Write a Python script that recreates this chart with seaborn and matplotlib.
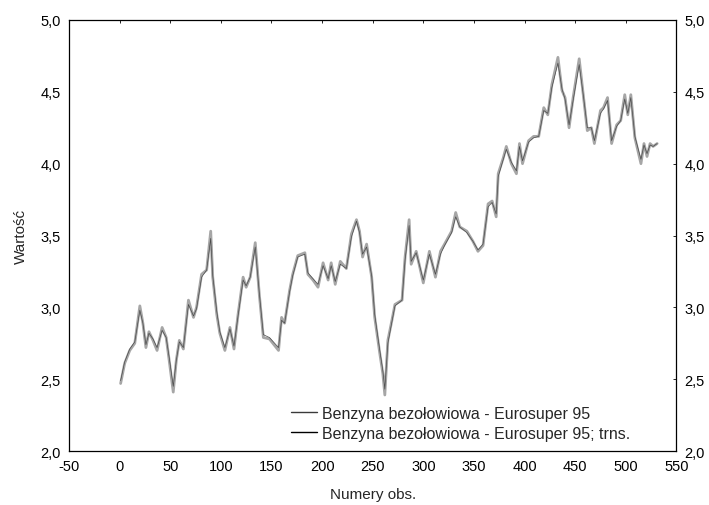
import matplotlib
matplotlib.use("Agg")
import matplotlib.pyplot as plt
import seaborn as sns
import pandas as pd
from matplotlib.ticker import FuncFormatter

obs = [1, 5, 10, 15, 20, 23, 26, 29, 33, 37, 42, 46, 49, 53, 56, 59, 63, 68, 73, 76,
       81, 86, 90, 92, 96, 99, 104, 109, 113, 117, 122, 125, 129, 134, 138, 142, 148, 157, 160, 163,
       168, 171, 176, 183, 186, 191, 196, 201, 206, 209, 213, 218, 224, 229, 234, 237, 240, 244, 249, 252,
       257, 260, 262, 265, 269, 272, 279, 282, 286, 288, 293, 300, 306, 312, 317, 321, 328, 332, 336, 343,
       349, 354, 359, 364, 368, 372, 374, 379, 382, 387, 392, 395, 398, 404, 409, 414, 419, 423, 427, 433,
       437, 440, 444, 448, 454, 458, 462, 466, 469, 475, 478, 482, 486, 491, 495, 499, 502, 505, 509, 515,
       518, 521, 524, 527, 531]

eurosuper = [2.47, 2.61, 2.70, 2.75, 3.01, 2.89, 2.72, 2.83, 2.77, 2.70, 2.86, 2.79, 2.63, 2.41, 2.63, 2.77, 2.71, 3.05, 2.93, 3.00,
             3.23, 3.26, 3.53, 3.21, 2.95, 2.82, 2.70, 2.86, 2.71, 2.95, 3.21, 3.14, 3.21, 3.45, 3.09, 2.79, 2.78, 2.70, 2.93, 2.89,
             3.12, 3.23, 3.36, 3.38, 3.23, 3.19, 3.14, 3.31, 3.19, 3.31, 3.16, 3.32, 3.27, 3.51, 3.61, 3.53, 3.35, 3.44, 3.21, 2.93,
             2.68, 2.54, 2.39, 2.77, 2.91, 3.02, 3.05, 3.35, 3.61, 3.30, 3.39, 3.17, 3.39, 3.21, 3.39, 3.44, 3.53, 3.66, 3.56, 3.53,
             3.46, 3.39, 3.43, 3.72, 3.74, 3.63, 3.93, 4.04, 4.12, 4.00, 3.93, 4.14, 4.00, 4.16, 4.19, 4.19, 4.39, 4.34, 4.55, 4.74,
             4.51, 4.46, 4.25, 4.46, 4.73, 4.48, 4.23, 4.25, 4.14, 4.37, 4.39, 4.46, 4.14, 4.27, 4.30, 4.48, 4.34, 4.48, 4.18, 4.00,
             4.14, 4.05, 4.14, 4.12, 4.14]

eurosuper_trns = [2.49, 2.62, 2.71, 2.76, 2.98, 2.89, 2.74, 2.82, 2.78, 2.72, 2.84, 2.79, 2.65, 2.45, 2.63, 2.76, 2.72, 3.02, 2.94, 2.99,
                  3.21, 3.26, 3.48, 3.22, 2.97, 2.83, 2.72, 2.85, 2.73, 2.94, 3.19, 3.15, 3.21, 3.42, 3.10, 2.81, 2.79, 2.72, 2.91, 2.89,
                  3.11, 3.22, 3.35, 3.37, 3.24, 3.20, 3.16, 3.29, 3.20, 3.29, 3.18, 3.30, 3.27, 3.49, 3.60, 3.52, 3.37, 3.42, 3.22, 2.95,
                  2.70, 2.56, 2.43, 2.75, 2.90, 3.01, 3.05, 3.33, 3.57, 3.32, 3.38, 3.19, 3.37, 3.23, 3.37, 3.43, 3.52, 3.63, 3.56, 3.52,
                  3.46, 3.40, 3.44, 3.70, 3.73, 3.65, 3.91, 4.03, 4.10, 4.01, 3.95, 4.12, 4.02, 4.15, 4.18, 4.19, 4.37, 4.35, 4.53, 4.70,
                  4.52, 4.45, 4.27, 4.44, 4.69, 4.48, 4.25, 4.25, 4.16, 4.35, 4.38, 4.44, 4.16, 4.26, 4.30, 4.45, 4.35, 4.46, 4.19, 4.03,
                  4.13, 4.07, 4.13, 4.12, 4.14]

label1 = "Benzyna bezołowiowa - Eurosuper 95"
label2 = "Benzyna bezołowiowa - Eurosuper 95; trns."

x_ticks = [-50, 0, 50, 100, 150, 200, 250, 300, 350, 400, 450, 500, 550]
y_ticks = [2.0, 2.5, 3.0, 3.5, 4.0, 4.5, 5.0]

sns.set_style("white")
plt.rcParams['font.family'] = ['Liberation Sans', 'DejaVu Sans']
plt.rcParams['font.size'] = 10.5

df = pd.concat([
    pd.DataFrame({"obs": obs, "val": eurosuper, "series": label1}),
    pd.DataFrame({"obs": obs, "val": eurosuper_trns, "series": label2}),
])

fig = plt.figure(figsize=(7.09, 5.06), dpi=100)
ax = fig.add_axes([0.0973, 0.1067, 0.8567, 0.8518])

sns.lineplot(data=df[df.series == label1], x="obs", y="val", ax=ax, color="#a6a6a6",
             linewidth=2.0, label=label1, estimator=None, sort=False)
sns.lineplot(data=df[df.series == label2], x="obs", y="val", ax=ax, color="#4a4a4a",
             linewidth=0.5, label=label2, estimator=None, sort=False)

ax.set_xlim(-50, 550)
ax.set_ylim(2.0, 5.0)
ax.set_xticks(x_ticks)
ax.set_yticks(y_ticks)
ax.yaxis.set_major_formatter(FuncFormatter(lambda v, p: f"{v:.1f}".replace('.', ',')))
ax.xaxis.set_major_formatter(FuncFormatter(lambda v, p: f"{int(round(v))}"))
ax.tick_params(axis='both', which='major', direction='in', length=2.5, width=0.6,
               top=True, right=True, labelright=True, labelsize=10.5, colors='black', pad=6)
for s in ax.spines.values():
    s.set_visible(True)
    s.set_color('black')
    s.set_linewidth(0.9)

ax.set_xlabel("Numery obs.", fontsize=11, labelpad=10)
ax.set_ylabel("Wartość", fontsize=11, labelpad=9)

leg = ax.legend(loc='lower left', bbox_to_anchor=(0.366, 0.024), frameon=False,
                handlelength=1.6, handletextpad=0.35, labelspacing=0.3, borderpad=0,
                borderaxespad=0, fontsize=11.5)
for h, c in zip(leg.get_lines(), ["#3a3a3a", "#000000"]):
    h.set_color(c)
    h.set_linewidth(1.0)

fig.savefig("out.png", dpi=100)
